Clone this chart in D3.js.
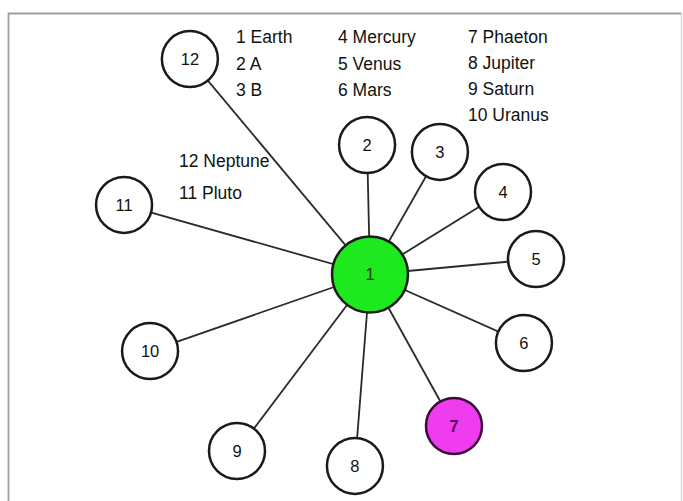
<!DOCTYPE html>
<html>
<head>
<meta charset="utf-8">
<script src="https://cdn.jsdelivr.net/npm/d3@7"></script>
<style>
  html, body { margin: 0; padding: 0; background: #ffffff; }
  svg { display: block; }
  text { font-family: "Liberation Sans", Arial, Helvetica, sans-serif; }
</style>
</head>
<body>
<svg id="chart" width="683" height="501"></svg>
<script>
// ---- data ----
const hubId = 1;
const nodeIds = [2, 3, 4, 5, 6, 7, 8, 9, 10, 11, 12];
// link direction (degrees, counter-clockwise from east) and link length from hub
const linkAngles = [91.3, 60.3, 31.8, 5.3, -24.0, -61.0, -94.5, -127.0, -160.8, 164.2, 129.9];
const linkLengths = [129.5, 141.1, 156.5, 166.7, 168.5, 173.2, 192, 221.0, 232.9, 255.6, 280.8];
const highlighted = [7];
const legendCol1 = ["1 Earth", "2 A", "3 B"];
const legendCol2 = ["4 Mercury", "5 Venus", "6 Mars"];
const legendCol3 = ["7 Phaeton", "8 Jupiter", "9 Saturn", "10 Uranus"];
const legendCol4 = ["12 Neptune", "11 Pluto"];

// ---- layout ----
const svg = d3.select("#chart");
const W = 683, H = 501;
const hub = { x: 370, y: 274.5 };
const rScale = d3.scaleLinear().domain([0, 300]).range([0, 300]);
const aScale = d3.scaleLinear().domain([0, 360]).range([0, 2 * Math.PI]);

// frame
svg.append("path")
  .attr("d", `M8.5,${H} L8.5,13.5 L${W - 1.5},13.5`)
  .attr("fill", "none")
  .attr("stroke", "#a0a0a0")
  .attr("stroke-width", 1.8);
svg.append("line")
  .attr("x1", W - 1.5).attr("y1", 13.5).attr("x2", W - 1.5).attr("y2", H)
  .attr("stroke", "#dcdcdc")
  .attr("stroke-width", 1.5);

const nodes = nodeIds.map((id, i) => {
  const a = aScale(linkAngles[i]);
  const r = rScale(linkLengths[i]);
  return { id, x: hub.x + r * Math.cos(a), y: hub.y - r * Math.sin(a) };
});

// links
svg.append("g").selectAll("line")
  .data(nodes).join("line")
  .attr("x1", hub.x).attr("y1", hub.y)
  .attr("x2", d => d.x).attr("y2", d => d.y)
  .attr("stroke", "#2a2a2a")
  .attr("stroke-width", 1.8);

// outer nodes
const g = svg.append("g").selectAll("g")
  .data(nodes).join("g")
  .attr("transform", d => `translate(${d.x},${d.y})`);
g.append("circle")
  .attr("r", 28)
  .attr("fill", d => highlighted.includes(d.id) ? "#ee3cee" : "#ffffff")
  .attr("stroke", d => highlighted.includes(d.id) ? "#3a0a3a" : "#1a1a1a")
  .attr("stroke-width", 2.5);
g.append("text")
  .attr("text-anchor", "middle")
  .attr("dy", "0.36em")
  .attr("font-size", 16.5)
  .attr("font-weight", d => highlighted.includes(d.id) ? "bold" : "normal")
  .attr("fill", d => highlighted.includes(d.id) ? "#5a0a5a" : "#111")
  .text(d => d.id);

// hub
svg.append("circle")
  .attr("cx", hub.x).attr("cy", hub.y).attr("r", 38)
  .attr("fill", "#1ee81e")
  .attr("stroke", "#1a1a1a")
  .attr("stroke-width", 2.5);
svg.append("text")
  .attr("x", hub.x).attr("y", hub.y)
  .attr("text-anchor", "middle").attr("dy", "0.36em")
  .attr("font-size", 16.5).attr("fill", "#123c12")
  .text(hubId);

// legend
function legend(items, x, y0, step) {
  svg.append("g").selectAll("text")
    .data(items).join("text")
    .attr("x", x)
    .attr("y", (d, i) => y0 + i * step)
    .attr("font-size", 17.5)
    .attr("fill", "#111")
    .text(d => d);
}
legend(legendCol1, 236, 43, 26.5);
legend(legendCol2, 338, 43, 26.5);
legend(legendCol3, 468, 43, 26);
legend(legendCol4, 179, 167, 31.5);
</script>
</body>
</html>
